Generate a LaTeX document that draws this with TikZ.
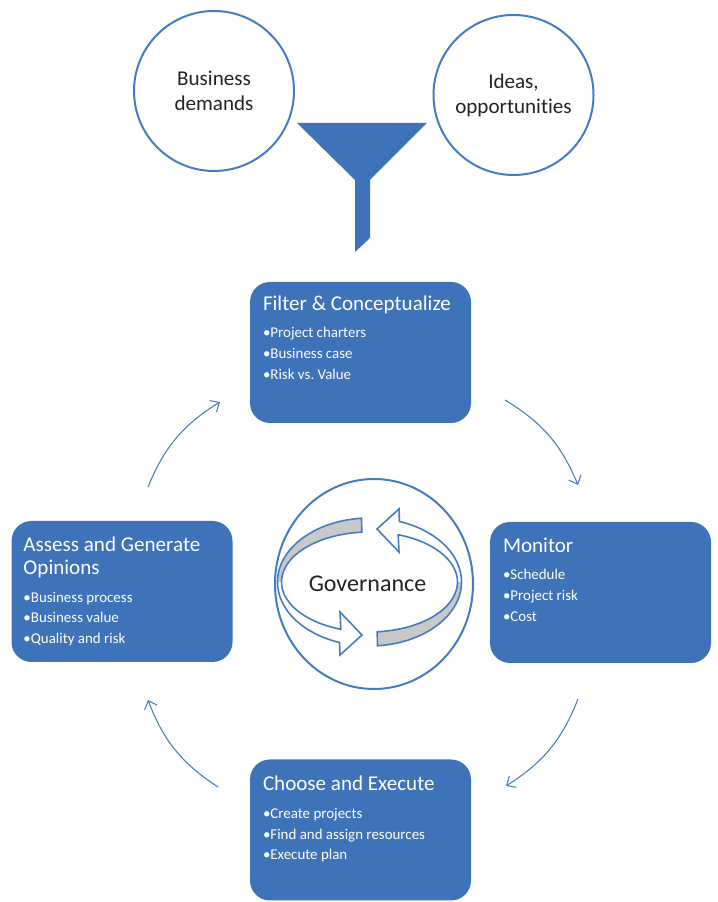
\documentclass[tikz,border=0pt]{standalone}
\usepackage{fontspec}
\setmainfont{Carlito}[Ligatures=NoCommon]
\usetikzlibrary{arrows.meta}
\frenchspacing

\definecolor{boxblue}{RGB}{62,114,185}
\definecolor{lineblue}{RGB}{68,124,196}
\definecolor{bandgrey}{RGB}{200,200,200}
\definecolor{inkgrey}{RGB}{35,35,35}

\tikzset{
  phase/.style={fill=boxblue, rounded corners=15pt, minimum width=165.75pt, minimum height=105.75pt, inner sep=0pt},
  phasetitle/.style={anchor=base west, inner sep=0pt, text=white, font=\fontsize{15.8}{19}\selectfont},
  item/.style={anchor=base west, inner sep=0pt, text=white, font=\fontsize{11.2}{13}\selectfont},
  source/.style={circle, draw=lineblue, line width=1.5pt, minimum size=120pt, align=center, text=inkgrey, font=\fontsize{15.8}{18.75}\selectfont},
  flow/.style={draw=lineblue, line width=0.8pt, -{Straight Barb[length=5.5pt, width=10pt]}},
  band/.style={draw=lineblue, line width=1.2pt}
}

\begin{document}
\begin{tikzpicture}[x=0.75pt, y=0.75pt]
\useasboundingbox (0,0) rectangle (717,902);

% inputs and funnel
\node[source] (demands) at (214,811) {Business\\demands};
\node[source] (ideas) at (513.5,807) {Ideas,\\opportunities};
\fill[boxblue] (297,779) -- (427,779) -- (370,722) -- (370,664) -- (355,650) -- (355,722) -- cycle;

% phases
\node[phase] (filter) at (360.5,549.5) {};
\node[phase] (monitor) at (600.5,309.5) {};
\node[phase] (choose) at (360.5,72) {};
\node[phase] (assess) at (122,310.5) {};

\node[phasetitle] (filtertitle) at ([shift={(13,-29)}]filter.north west) {Filter \& Conceptualize};
\foreach \t [count=\i] in {Project charters, Business case, Risk vs. Value}
  \node[item] (filteritem\i) at ([shift={(13,-35.5-20.7*\i)}]filter.north west) {•\t};

\node[phasetitle] (monitortitle) at ([shift={(13,-31)}]monitor.north west) {Monitor};
\foreach \t [count=\i] in {Schedule, Project risk, Cost}
  \node[item] (monitoritem\i) at ([shift={(13,-37.3-20.7*\i)}]monitor.north west) {•\t};

\node[phasetitle] (choosetitle) at ([shift={(13,-31.5)}]choose.north west) {Choose and Execute};
\foreach \t [count=\i] in {Create projects, Find and assign resources, Execute plan}
  \node[item] (chooseitem\i) at ([shift={(13,-38.5-20.7*\i)}]choose.north west) {•\t};

\node[phasetitle] (assesstitle) at ([shift={(12,-31)}]assess.north west) {Assess and Generate};
\node[phasetitle] (assesstitletwo) at ([shift={(12,-53.3)}]assess.north west) {Opinions};
\foreach \t [count=\i] in {Business process, Business value, Quality and risk}
  \node[item] (assessitem\i) at ([shift={(12,-61.3-20.4*\i)}]assess.north west) {•\t};

% cycle arrows
\coordinate (assessout) at (148,415);
\coordinate (filterin) at (220,500);
\coordinate (filterout) at (505,502);
\coordinate (monitorin) at (578,417);
\coordinate (monitorout) at (578,203);
\coordinate (choosein) at (506,116);
\coordinate (chooseout) at (218,115);
\coordinate (assessin) at (148,202);
\draw[flow] (assessout) to[bend left=18] (filterin);
\draw[flow] (filterout) to[bend left=18] (monitorin);
\draw[flow] (monitorout) to[bend left=18] (choosein);
\draw[flow] (chooseout) to[bend left=18] (assessin);

% governance
\draw[lineblue, line width=1.5pt] (374,318) ellipse[x radius=99, y radius=105];
\coordinate (ring) at (369.5,320);
\foreach \r in {0,180} {
  \begin{scope}[shift={(ring)}, rotate=\r]
    \fill[bandgrey] (95:92 and 64) arc[start angle=95, end angle=180, x radius=92, y radius=64]
      -- (180:88 and 50) arc[start angle=180, end angle=95, x radius=88, y radius=50] -- cycle;
    \draw[band] (95:92 and 64) arc[start angle=95, end angle=251, x radius=92, y radius=64]
      -- (-29.5,-73) -- (-7.5,-53) -- (-29.5,-30)
      -- (251:88 and 50) arc[start angle=251, end angle=95, x radius=88, y radius=50] -- cycle;
  \end{scope}
}
\node[text=inkgrey, font=\fontsize{18}{22}\selectfont] (gov) at (367.5,318.5) {Governance};
\end{tikzpicture}
\end{document}
